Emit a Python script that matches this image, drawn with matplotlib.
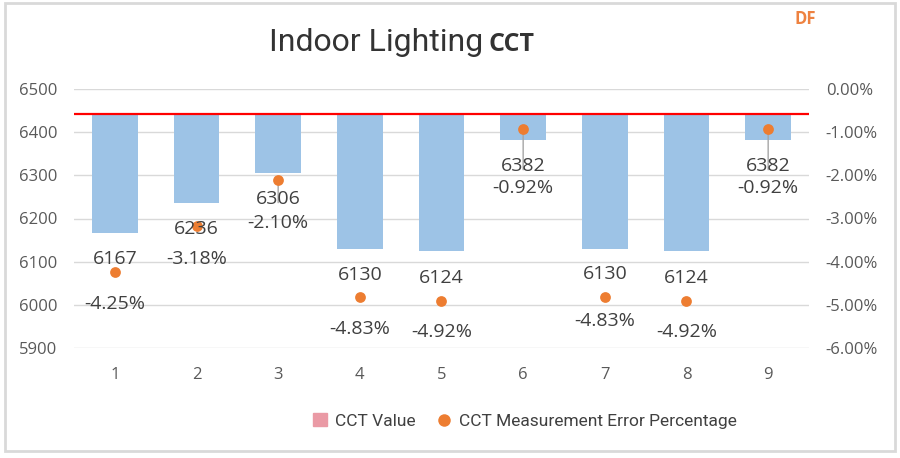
import matplotlib
matplotlib.use("Agg")
import matplotlib.pyplot as plt
from matplotlib.patches import Rectangle
from matplotlib.lines import Line2D

# ---- data ----
categories = ["1", "2", "3", "4", "5", "6", "7", "8", "9"]
cct_values = [6167, 6236, 6306, 6130, 6124, 6382, 6130, 6124, 6382]
error_pct = [-4.25, -3.18, -2.10, -4.83, -4.92, -0.92, -4.83, -4.92, -0.92]
reference_cct = 6441
left_ticks = [5900, 6000, 6100, 6200, 6300, 6400, 6500]
right_ticks = [0, -1, -2, -3, -4, -5, -6]

# ---- layout (label offsets in pixels: value line, percent line; + = down) ----
label_dy = [(-13, 32), (3, 33), (19, 43), (-22, 32), (-23, 31),
            (37, 59), (-23, 24), (-23, 31), (37, 59)]
leaders = [False, False, True, False, False, True, False, False, True]

BAR = "#9DC3E6"
ORANGE = "#ED7D31"
TXT = "#404040"
TICK = "#595959"
GRID = "#D9D9D9"
LABEL_FONT = ["Open Sans", "DejaVu Sans"]

fig = plt.figure(figsize=(9, 4.58), dpi=100)
ax = fig.add_axes([74 / 900, 1 - 348 / 458, 735 / 900, 259 / 458])
ax2 = ax.twinx()

x = list(range(1, len(categories) + 1))
heights = [v - reference_cct for v in cct_values]
ax.bar(x, heights, bottom=reference_cct, width=0.56, color=BAR, zorder=2)
ax.axhline(reference_cct, color="#FF0000", lw=1.6, zorder=3)

ax.set_xlim(0.5, len(categories) + 0.5)
ax.set_ylim(5900, 6500)
ax.set_yticks(left_ticks)
ax.set_xticks(x)
ax.set_xticklabels(categories)
ax.grid(axis="y", color=GRID, lw=1.0, zorder=0)
ax.set_axisbelow(True)

ax2.set_ylim(-6, 0)
ax2.set_yticks(right_ticks)
ax2.set_yticklabels([f"{t:.2f}%" for t in right_ticks])
ax2.scatter(x, error_pct, s=60, color=ORANGE, zorder=5, linewidths=0)

for a in (ax, ax2):
    for s in a.spines.values():
        s.set_visible(False)
    a.tick_params(length=0, colors=TICK, labelsize=12)
    for lbl in a.get_yticklabels() + a.get_xticklabels():
        lbl.set_fontfamily(LABEL_FONT)
ax.tick_params(axis="y", pad=12)
ax.tick_params(axis="x", pad=14)
ax2.tick_params(axis="y", pad=12)

# data labels
for xi, v, p, (d1, d2), lead in zip(x, cct_values, error_pct, label_dy, leaders):
    if lead:
        ax2.annotate("", xy=(xi, p), xytext=(0, -(d1 + 4)), textcoords="offset pixels",
                     arrowprops=dict(arrowstyle="-", color="#A6A6A6", lw=1.0,
                                     shrinkA=0, shrinkB=0), zorder=4)
    ax2.annotate(f"{v}", xy=(xi, p), xytext=(0, -d1), textcoords="offset pixels",
                 ha="center", va="center", fontsize=14, color=TXT,
                 family=LABEL_FONT, zorder=6)
    ax2.annotate(f"{p:.2f}%", xy=(xi, p), xytext=(0, -d2), textcoords="offset pixels",
                 ha="center", va="center", fontsize=14, color=TXT,
                 family=LABEL_FONT, zorder=6)

# title
fig.text(269 / 900, 1 - 51 / 458, "Indoor Lighting", fontsize=23, color="#333333",
         family=["Roboto", "DejaVu Sans"], ha="left", va="baseline")
fig.text(489 / 900, 1 - 51 / 458, "CCT", fontsize=18, color="#333333", fontweight="bold",
         family=["Open Sans", "DejaVu Sans"], ha="left", va="baseline")
fig.text(794 / 900, 1 - 24 / 458, "DF", fontsize=12, color="#EE8240", fontweight="bold",
         family=["Open Sans", "DejaVu Sans"], ha="left", va="baseline")

# legend
handles = [Rectangle((0, 0), 1, 1, color="#EA9AA5"),
           Line2D([], [], marker="o", ls="none", color=ORANGE, markersize=9, mec="none")]
leg = fig.legend(handles, ["CCT Value", "CCT Measurement Error Percentage"],
                 loc="center", bbox_to_anchor=(525 / 900, 1 - 421 / 458), ncol=2,
                 frameon=False, prop={"family": ["Roboto", "DejaVu Sans"], "size": 12.5},
                 handlelength=0.8, handleheight=0.8, handletextpad=0.5, columnspacing=1.2)
for t in leg.get_texts():
    t.set_color(TXT)

# outer border
fig.add_artist(Rectangle((5 / 900, 1 - 451 / 458), 890 / 900, 448 / 458,
                         transform=fig.transFigure, fill=False, ec="#D9D9D9", lw=2))

fig.savefig("out.png", dpi=100)
